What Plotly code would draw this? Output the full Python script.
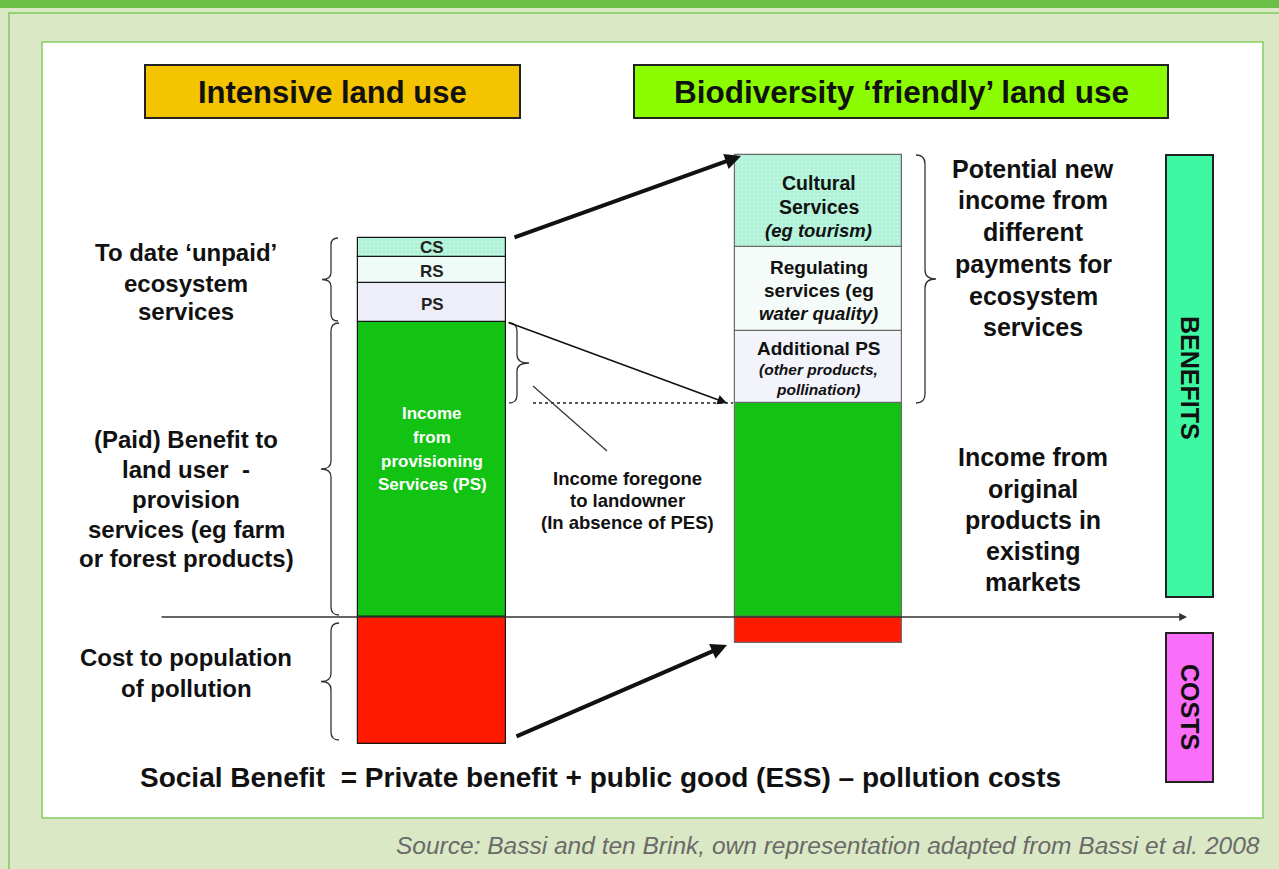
import plotly.graph_objects as go

# ---------------- data (schematic units, zero = baseline) ----------------
scenarios = ["Intensive land use", "Biodiversity \u2018friendly\u2019 land use"]
income_ps = [295, 214]          # (paid) income from provisioning services
extra_ps = [39, 72]             # PS (unpaid) / additional PS
regulating = [26, 84]           # regulating services
cultural = [19, 92]             # cultural services
pollution = [-127, -26]         # cost to population of pollution
segment_labels_left = ["PS", "RS", "CS"]

W, H = 1279, 869
ZERO = 617                      # pixel row of the zero baseline


def Y(p):
    return ZERO - p


FONT = "Liberation Sans, Arial, sans-serif"
bar_x = [432, 818.5]
bar_w = [148, 167]
edge = ["#151515", "#6a6a6a"]

base_extra = list(income_ps)
base_rs = [a + b for a, b in zip(income_ps, extra_ps)]
base_cs = [a + b + c for a, b, c in zip(income_ps, extra_ps, regulating)]

fig = go.Figure()


def add_bar(vals, base, color, pattern=None):
    marker = dict(color=color, line=dict(color=edge, width=1.2))
    if pattern:
        marker["pattern"] = pattern
    fig.add_trace(go.Bar(x=bar_x, y=vals, base=base, width=bar_w, marker=marker,
                         showlegend=False, hoverinfo="skip"))


add_bar(income_ps, [0, 0], "#13c313")
add_bar(extra_ps, base_extra, ["#eeeef9", "#f3f3fb"])
add_bar(regulating, base_rs, ["#effbf6", "#f5fbf8"])
add_bar(cultural, base_cs, "#aef2d8",
        pattern=dict(shape=".", fgcolor="#d9fbee", size=4, solidity=0.35, fillmode="overlay"))
add_bar(pollution, [0, 0], "#ff1a00")

shapes = []


def rect(x0, p0, x1, p1, fill, line="#222", lw=2, layer="below"):
    shapes.append(dict(type="rect", xref="x", yref="y", x0=x0, x1=x1, y0=Y(p0), y1=Y(p1),
                       fillcolor=fill, line=dict(color=line, width=lw), layer=layer))


# frames / background
rect(-5, -5, 1290, 8, "#6cbf46", line="#6cbf46", lw=0)
rect(9, 13, 1300, 900, "rgba(0,0,0,0)", line="#7ccb5a", lw=1.5)
rect(42, 42, 1263, 818, "#ffffff", line="#86cd62", lw=1.5)
# header boxes
rect(145, 65, 520, 118, "#f5c400")
rect(634, 65, 1168, 118, "#8cfd00")
# benefits / costs boxes
rect(1166, 155, 1213, 597, "#3ff9a2")
rect(1166, 633, 1213, 782, "#fb6ef9")


def brace(x, p1, p2, side="left", d=8, tip=10, pm=None):
    y1, y2 = Y(p1), Y(p2)
    ym = Y(pm) if pm is not None else (y1 + y2) / 2
    s = 1 if side == "left" else -1
    path = (f"M {x + s*d},{y1} Q {x},{y1} {x},{y1 - d} L {x},{ym + d} "
            f"Q {x},{ym} {x - s*tip},{ym} Q {x},{ym} {x},{ym - d} "
            f"L {x},{y2 + d} Q {x},{y2} {x + s*d},{y2}")
    shapes.append(dict(type="path", xref="x", yref="y", path=path,
                       line=dict(color="#333", width=1.3), layer="above"))


brace(331, 238, 321, "left", d=7, tip=9)
brace(331, 323, 615, "left", d=8, tip=10)
brace(331, 623, 740, "left", d=8, tip=10)
brace(517, 323, 403, "right", d=8, tip=12)
brace(925, 155, 403, "right", d=9, tip=11)

# dotted reference line and pointer
shapes.append(dict(type="line", xref="x", yref="y", x0=533, x1=733, y0=Y(403), y1=Y(403),
                   line=dict(color="#555", width=2, dash="dot"), layer="above"))
shapes.append(dict(type="line", xref="x", yref="y", x0=533, x1=607, y0=Y(386), y1=Y(451),
                   line=dict(color="#333", width=1.2), layer="above"))

ann = []


def arrow(xt, pt, xh, ph, w, size=1.0, color="#111"):
    ann.append(dict(x=xh, y=Y(ph), ax=xt, ay=Y(pt), xref="x", yref="y", axref="x", ayref="y",
                    showarrow=True, arrowhead=2, arrowwidth=w, arrowsize=size,
                    arrowcolor=color, standoff=0, text=""))


arrow(160, 617, 1187, 617, 1.3, 1.2, "#333")
arrow(513, 238, 741, 156, 4, 0.8)
arrow(507, 322, 727, 403, 1.6, 1.2)
arrow(515, 737, 727, 645, 4, 0.8)


def text(x, p, t, size, color="#111", bold=True, italic=False, angle=0, xanchor="center"):
    s = t
    if italic:
        s = f"<i>{s}</i>"
    if bold:
        s = f"<b>{s}</b>"
    ann.append(dict(x=x, y=Y(p), xref="x", yref="y", text=s, showarrow=False,
                    font=dict(family=FONT, size=size, color=color), textangle=angle,
                    xanchor=xanchor, yanchor="middle"))


def block(x, rows, lines, size, **kw):
    for p, ln in zip(rows, lines):
        text(x, p, ln, size, **kw)


# headers
text(332, 92, scenarios[0], 31)
text(901, 92, scenarios[1], 31.5)

# left side labels
block(186, [252, 283, 311], ["To date \u2018unpaid\u2019", "ecosystem", "services"], 24)
block(186, [439, 469, 499, 529, 558],
      ["(Paid) Benefit to", "land user  -", "provision", "services (eg farm", "or forest products)"], 24)
block(186, [657, 688], ["Cost to population", "of pollution"], 24)

# left bar labels
text(bar_x[0], 304, segment_labels_left[0], 17, color="#222")
text(bar_x[0], 271, segment_labels_left[1], 17, color="#222")
text(bar_x[0], 247, segment_labels_left[2], 17, color="#222")
block(bar_x[0], [413, 437, 461, 484], ["Income", "from", "provisioning", "Services (PS)"], 17,
      color="#ffffff")

# income foregone
block(627, [478, 500, 522], ["Income foregone", "to landowner", "(In absence of PES)"], 18.5)

# right bar labels
block(bar_x[1], [183, 207], ["Cultural", "Services"], 19.5)
text(bar_x[1], 230, "(eg tourism)", 18.5, italic=True)
text(bar_x[1], 267, "Regulating", 19)
text(bar_x[1], 290, "services (eg", 19)
text(bar_x[1], 313, "water quality)", 18.5, italic=True)
text(bar_x[1], 348, "Additional PS", 19)
block(bar_x[1], [369, 389], ["(other products,", "pollination)"], 15.5, italic=True)

# right side text
block(1033, [169, 200, 232, 264, 296, 327],
      ["Potential new", "income from", "different", "payments for", "ecosystem", "services"], 25)
block(1033, [457, 489, 520, 551, 582],
      ["Income from", "original", "products in", "existing", "markets"], 25)

# benefits / costs labels
text(1190, 378, "BENEFITS", 25, angle=90)
text(1190, 707, "COSTS", 25, angle=90)

# bottom formula
text(600, 777, "Social Benefit  = Private benefit + public good (ESS) \u2013 pollution costs", 28)

# source
text(1262, 845, "Source: Bassi and ten Brink, own representation adapted from Bassi et al. 2008",
     24.5, color="#6a6a6a", bold=False, italic=True, xanchor="right")

fig.update_layout(
    width=W, height=H, margin=dict(l=0, r=0, t=0, b=0),
    paper_bgcolor="#dbe8c5", plot_bgcolor="#dbe8c5",
    barmode="overlay", bargap=0,
    xaxis=dict(range=[0, W], visible=False, fixedrange=True),
    yaxis=dict(range=[Y(H), Y(0)], visible=False, fixedrange=True),
    shapes=shapes, annotations=ann, showlegend=False,
)

fig.write_html("out.html", config={"displayModeBar": False},
               post_script="document.body.style.margin='0px';")
